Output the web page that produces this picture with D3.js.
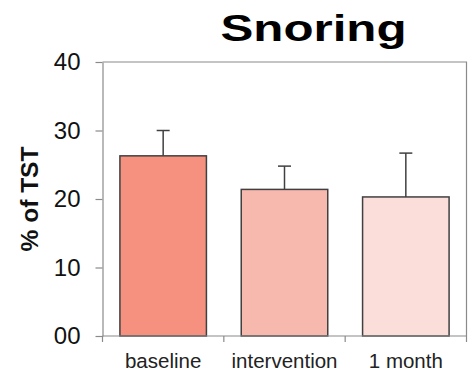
<!DOCTYPE html>
<html>
<head>
<meta charset="utf-8">
<script src="https://cdn.jsdelivr.net/npm/d3@7"></script>
<style>
  html, body { margin: 0; padding: 0; background: #fff; }
  svg { display: block; font-family: Arial, "Liberation Sans", sans-serif; }
</style>
</head>
<body>
<svg id="chart" width="472" height="383"></svg>
<script>
// Snoring time as a share of total sleep time, per study phase
const categories = ["baseline", "intervention", "1 month"];
const means = [26.3, 21.4, 20.3];
const errors = [3.7, 3.4, 6.4];
const barColors = ["#F7917F", "#F7B8AE", "#FBDEDA"];
const yTicks = [0, 10, 20, 30, 40];
const yTickLabels = ["00", "10", "20", "30", "40"];

const svg = d3.select("#chart");
const plotLeft = 102.5, plotRight = 466.5, plotTop = 62, plotBottom = 336;
const axisColor = "#8a8a8a";
const edgeColor = "#404040";

const x = d3.scaleBand().domain(categories).range([plotLeft, plotRight])
  .paddingInner(0.287).paddingOuter(0.1435);
const y = d3.scaleLinear().domain([0, 40]).range([plotBottom, plotTop]);

// Frame: top and right border of the plot area
svg.append("path")
  .attr("d", `M${plotLeft},${plotTop}H${plotRight}V${plotBottom}`)
  .attr("fill", "none").attr("stroke", axisColor).attr("stroke-width", 1.2);

// Bars
svg.append("g").selectAll("rect").data(categories).join("rect")
  .attr("x", d => x(d))
  .attr("y", (d, i) => y(means[i]))
  .attr("width", x.bandwidth())
  .attr("height", (d, i) => y(0) - y(means[i]))
  .attr("fill", (d, i) => barColors[i])
  .attr("stroke", edgeColor).attr("stroke-width", 1.5);

// Upper error bars
const capHalf = 6.5;
const eb = svg.append("g").attr("stroke", edgeColor).attr("stroke-width", 1.5);
categories.forEach((c, i) => {
  const cx = x(c) + x.bandwidth() / 2;
  eb.append("line").attr("x1", cx).attr("x2", cx)
    .attr("y1", y(means[i])).attr("y2", y(means[i] + errors[i]));
  eb.append("line").attr("x1", cx - capHalf).attr("x2", cx + capHalf)
    .attr("y1", y(means[i] + errors[i])).attr("y2", y(means[i] + errors[i]));
});

// Y axis
const yAxis = svg.append("g").attr("transform", `translate(${plotLeft},0)`)
  .call(d3.axisLeft(y).tickValues(yTicks)
    .tickFormat((d, i) => yTickLabels[i]).tickSize(7).tickSizeOuter(0).tickPadding(15));
yAxis.selectAll("path, line").attr("stroke", axisColor).attr("stroke-width", 1.2);
yAxis.selectAll("text").attr("font-size", 24).attr("fill", "#111")
  .attr("font-family", "Arial, 'Liberation Sans', sans-serif");

// X axis: tick marks at category boundaries, labels under each bar
const xAxis = svg.append("g").attr("transform", `translate(0,${plotBottom})`);
xAxis.append("line").attr("x1", plotLeft).attr("x2", plotRight)
  .attr("stroke", axisColor).attr("stroke-width", 1.2);
const boundaries = categories.map(c => x(c) - x.step() * x.paddingInner() / 2).concat([plotRight]);
xAxis.selectAll("line.tick").data(boundaries).join("line")
  .attr("class", "tick")
  .attr("x1", d => d).attr("x2", d => d).attr("y1", 0).attr("y2", 6)
  .attr("stroke", axisColor).attr("stroke-width", 1.2);
xAxis.selectAll("text").data(categories).join("text")
  .attr("x", d => x(d) + x.bandwidth() / 2)
  .attr("y", 31.5)
  .attr("text-anchor", "middle")
  .attr("font-size", 20.5).attr("fill", "#222")
  .text(d => d);

// Y axis title
svg.append("text")
  .attr("transform", `translate(38,${(plotTop + plotBottom) / 2}) rotate(-90)`)
  .attr("text-anchor", "middle")
  .attr("font-size", 24.5).attr("font-weight", "bold").attr("fill", "#111")
  .text("% of TST");

// Chart title
svg.append("text")
  .attr("x", 220.5).attr("y", 40.5)
  .attr("font-size", 36).attr("font-weight", "bold").attr("fill", "#000")
  .attr("textLength", 186).attr("lengthAdjust", "spacingAndGlyphs")
  .text("Snoring");
</script>
</body>
</html>
